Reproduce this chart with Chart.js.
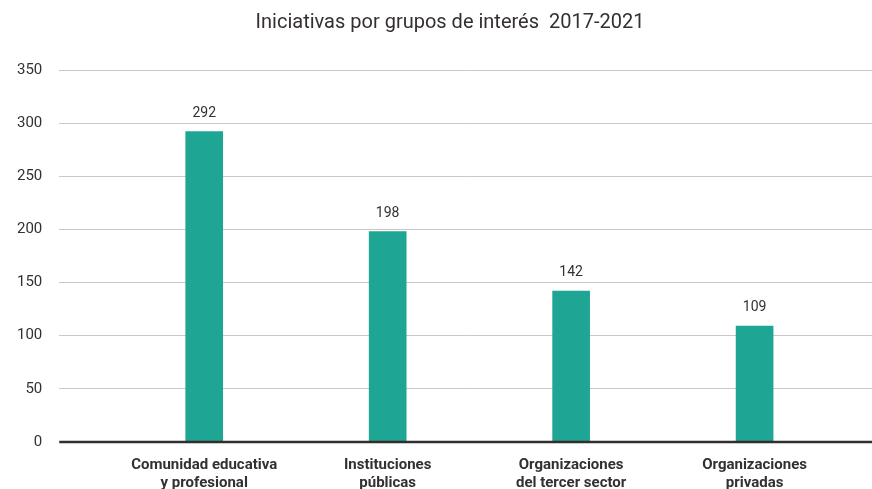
<!DOCTYPE html>
<html>
<head>
<meta charset="utf-8">
<script src="https://cdn.jsdelivr.net/npm/chart.js@4"></script>
<style>
  html, body { margin: 0; padding: 0; background: #ffffff; }
  #wrap { width: 872px; height: 489px; position: relative; }
</style>
</head>
<body>
<div id="wrap"><canvas id="chart"></canvas></div>
<script>
const title = 'Iniciativas por grupos de interés  2017-2021'
const categories = [
  ['Comunidad educativa', 'y profesional'],
  ['Instituciones', 'públicas'],
  ['Organizaciones', 'del tercer sector'],
  ['Organizaciones', 'privadas'],
]
const values = [292, 198, 142, 109]
const yTicks = [0, 50, 100, 150, 200, 250, 300, 350]

const textColor = '#353030'
const barColor = '#1fa593'

// grid lines go past the first/last bar, so x is a linear scale with extra room
const xMin = -0.79
const xMax = 3.64

// title sits a bit right of the canvas centre in the original
const titleBox = {
  id: 'titleBox',
  afterDraw(chart) {
    const { ctx } = chart
    ctx.save()
    ctx.font = '20px Roboto'
    ctx.fillStyle = textColor
    ctx.textAlign = 'center'
    ctx.textBaseline = 'middle'
    ctx.fillText(title, 450, 23)
    ctx.restore()
  },
}

const valueLabels = {
  id: 'valueLabels',
  afterDatasetsDraw(chart) {
    const { ctx } = chart
    const meta = chart.getDatasetMeta(0)
    ctx.save()
    ctx.font = '14px Roboto'
    ctx.fillStyle = textColor
    ctx.textAlign = 'center'
    ctx.textBaseline = 'alphabetic'
    meta.data.forEach((bar, i) => {
      ctx.fillText(String(values[i]), bar.x, bar.y - 15)
    })
    ctx.restore()
  },
}

const baseLine = {
  id: 'baseLine',
  afterDatasetsDraw(chart) {
    const { ctx, chartArea } = chart
    const y = chart.scales.y.getPixelForValue(0)
    ctx.save()
    ctx.strokeStyle = '#332e2e'
    ctx.lineWidth = 2.5
    ctx.beginPath()
    ctx.moveTo(chartArea.left, y)
    ctx.lineTo(chartArea.right, y)
    ctx.stroke()
    ctx.restore()
  },
}

const ctx = document.getElementById('chart').getContext('2d')
new Chart(ctx, {
  type: 'bar',
  data: {
    datasets: [
      {
        data: values.map((v, i) => ({ x: i, y: v })),
        backgroundColor: barColor,
        barThickness: 37,
      },
    ],
  },
  options: {
    responsive: true,
    maintainAspectRatio: false,
    animation: false,
    layout: { padding: { left: 0, right: 0, top: 70, bottom: 0 } },
    scales: {
      x: {
        type: 'linear',
        offset: false,
        min: xMin,
        max: xMax,
        afterBuildTicks(scale) {
          scale.ticks = categories.map((_, i) => ({ value: i }))
        },
        afterFit(scale) {
          scale.height = 47
        },
        grid: { display: false },
        border: { display: false },
        ticks: {
          padding: 6,
          color: textColor,
          font: { family: 'Roboto', size: 15, weight: 'bold', lineHeight: 1.2 },
          maxRotation: 0,
          autoSkip: false,
          callback: (value) => categories[value],
        },
      },
      y: {
        min: 0,
        max: 350,
        afterBuildTicks(scale) {
          scale.ticks = yTicks.map((v) => ({ value: v }))
        },
        grid: { color: '#cfc6c1', lineWidth: 1, drawTicks: false },
        border: { display: false },
        ticks: {
          padding: 17,
          color: textColor,
          font: { family: 'Roboto', size: 15 },
        },
      },
    },
    plugins: {
      legend: { display: false },
      tooltip: { enabled: false },
      title: { display: false },
    },
  },
  plugins: [valueLabels, baseLine, titleBox],
})
</script>
</body>
</html>
